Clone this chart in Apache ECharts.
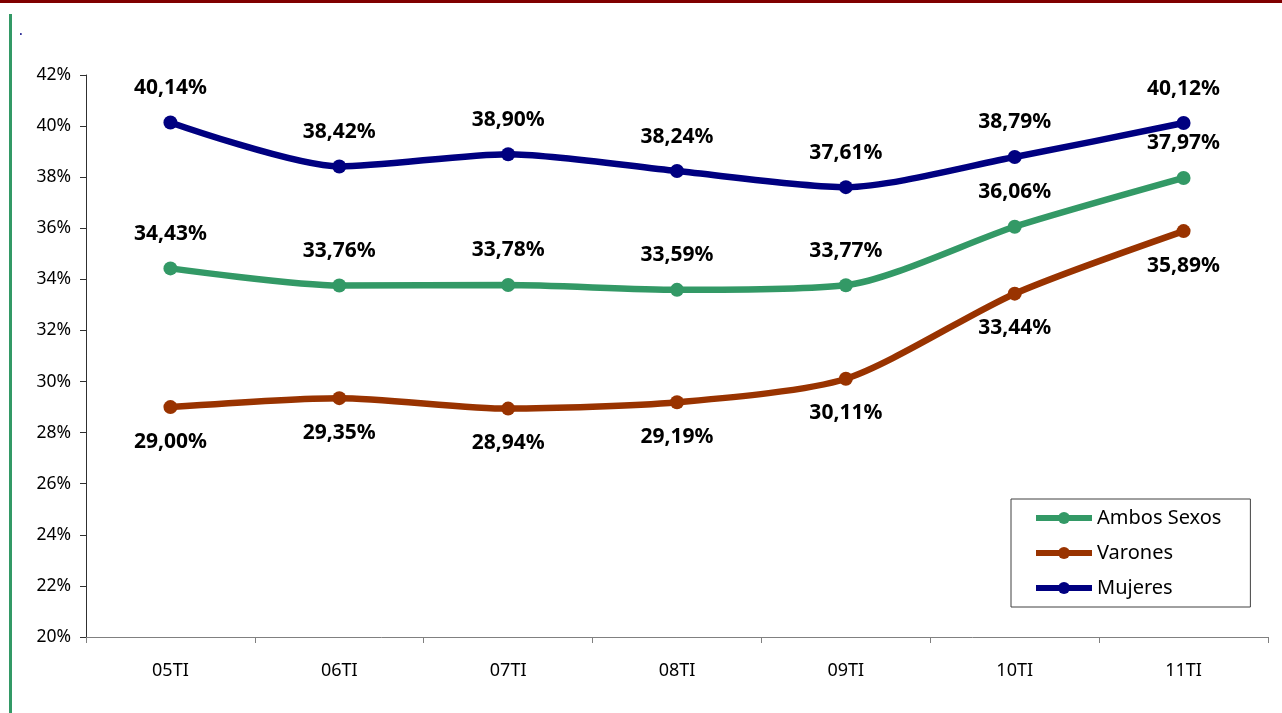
<!DOCTYPE html>
<html>
<head>
<meta charset="utf-8">
<script src="https://cdn.jsdelivr.net/npm/echarts@6/dist/echarts.min.js"></script>
<style>
html,body{margin:0;padding:0;background:#fff;}
#chart{width:1282px;height:713px;}
</style>
</head>
<body>
<div id="chart"></div>
<script>
const categories = ['05TI','06TI','07TI','08TI','09TI','10TI','11TI'];
const ambosSexos = [34.43, 33.76, 33.78, 33.59, 33.77, 36.06, 37.97];
const varones    = [29.00, 29.35, 28.94, 29.19, 30.11, 33.44, 35.89];
const mujeres    = [40.14, 38.42, 38.90, 38.24, 37.61, 38.79, 40.12];
const seriesNames = ['Ambos Sexos', 'Varones', 'Mujeres'];
const seriesColors = ['#339966', '#993300', '#000080'];

const FONT = '"Noto Sans", "Open Sans", sans-serif';
const fmt = v => v.toFixed(2).replace('.', ',') + '%';

function mkSeries(name, data, color, pos) {
  return {
    name: name,
    type: 'line',
    data: data,
    smooth: 0.25,
    symbol: 'circle',
    symbolSize: 14,
    color: color,
    lineStyle: { width: 6.5, color: color },
    itemStyle: { color: color },
    label: {
      show: true,
      position: pos,
      distance: 17,
      formatter: p => fmt(p.value),
      fontFamily: FONT,
      fontWeight: 'bold',
      fontSize: 21,
      color: '#000'
    },
    emphasis: { disabled: true },
    animation: false
  };
}

const chart = echarts.init(document.getElementById('chart'), null, { renderer: 'canvas' });
chart.setOption({
  backgroundColor: '#fff',
  animation: false,
  grid: { left: 86, right: 14, top: 75, bottom: 76, containLabel: false },
  graphic: [
    { type: 'rect', left: 0, top: 0, shape: { width: 1282, height: 3 }, style: { fill: '#800000' } },
    { type: 'rect', left: 9, top: 14, shape: { width: 3, height: 699 }, style: { fill: '#339966' } },
    { type: 'text', left: 19, top: 24, style: { text: '.', fill: '#000080', font: '14px ' + FONT } }
  ],
  legend: {
    left: 1011,
    top: 499,
    orient: 'vertical',
    padding: [9, 29, 9, 22],
    borderColor: '#404040',
    borderWidth: 1,
    backgroundColor: '#fff',
    itemWidth: 56,
    itemHeight: 15,
    itemGap: 15,
    data: seriesNames,
    lineStyle: { width: 6 },
    textStyle: { fontFamily: FONT, fontSize: 20, color: '#000', lineHeight: 20 }
  },
  xAxis: {
    type: 'category',
    data: categories,
    boundaryGap: true,
    axisLine: { lineStyle: { color: '#808080', width: 1 } },
    axisTick: { show: true, length: 6, lineStyle: { color: '#808080' } },
    axisLabel: { fontFamily: FONT, fontSize: 18, color: '#000', margin: 25 },
    splitLine: { show: false }
  },
  yAxis: {
    type: 'value',
    min: 20,
    max: 42,
    interval: 2,
    axisLine: { show: true, lineStyle: { color: '#303030', width: 1 } },
    axisTick: { show: true, length: 6, lineStyle: { color: '#303030' } },
    axisLabel: { fontFamily: FONT, fontSize: 17.5, color: '#000', margin: 15, formatter: '{value}%' },
    splitLine: { show: false }
  },
  series: [
    mkSeries(seriesNames[0], ambosSexos, seriesColors[0], 'top'),
    mkSeries(seriesNames[1], varones, seriesColors[1], 'bottom'),
    mkSeries(seriesNames[2], mujeres, seriesColors[2], 'top')
  ]
});
</script>
</body>
</html>
